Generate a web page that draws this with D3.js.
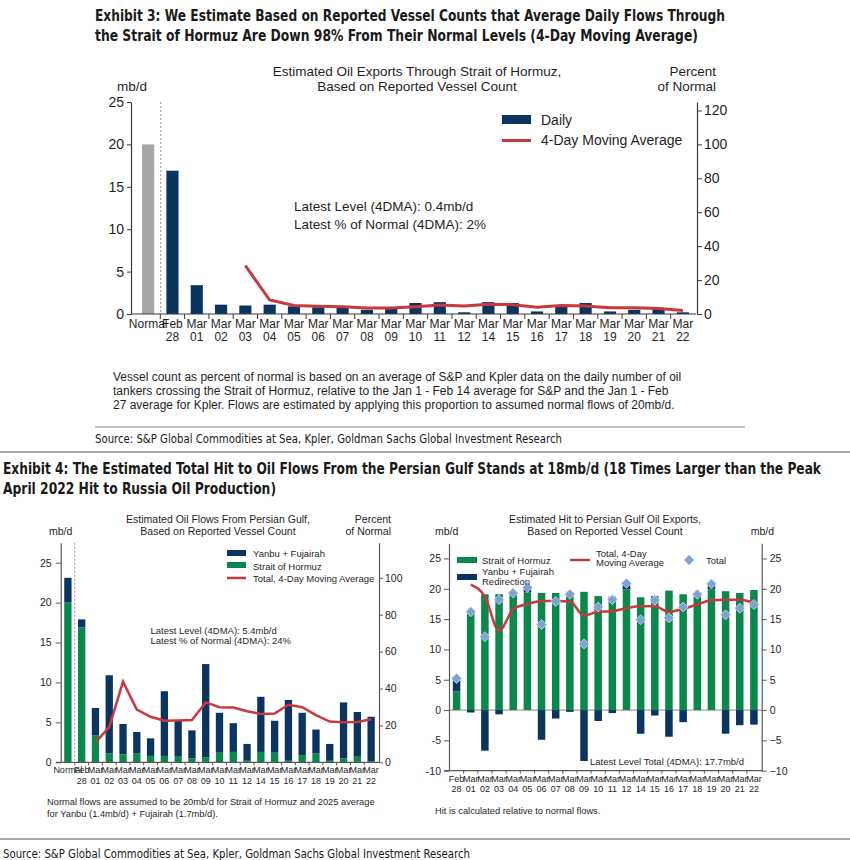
<!DOCTYPE html>
<html>
<head>
<meta charset="utf-8">
<script src="https://cdn.jsdelivr.net/npm/d3@7"></script>
<style>
body { margin: 0; background: #fff; }
svg text { font-family: "Liberation Sans", Arial, sans-serif; fill: #1f1f1f; }
svg text.head { font-family: "Liberation Sans Narrow", "DejaVu Sans Condensed", "Liberation Sans", sans-serif; fill: #1a1a1a; }
</style>
</head>
<body>
<div id="container"></div>
<script>
// categories (Mar 13 is missing in the source)
const flowCats = ["Normal", "Feb 28", "Mar 01", "Mar 02", "Mar 03", "Mar 04", "Mar 05", "Mar 06", "Mar 07",
  "Mar 08", "Mar 09", "Mar 10", "Mar 11", "Mar 12", "Mar 14", "Mar 15", "Mar 16", "Mar 17", "Mar 18",
  "Mar 19", "Mar 20", "Mar 21", "Mar 22"];
const hitCats = flowCats.slice(1);

// Exhibit 3: Strait of Hormuz daily flows, mb/d
const hormuzDaily = [20, 16.9, 3.4, 1.1, 1.0, 1.1, 0.9, 0.8, 0.8, 0.5, 0.6, 1.3, 1.4, 0.2, 1.4, 1.3, 0.3, 0.9, 1.3, 0.3, 0.5, 0.6, 0.2];
const hormuzMA = [null, null, null, null, 5.7, 1.65, 1.0, 0.9, 0.85, 0.7, 0.7, 0.85, 1.05, 0.95, 1.15, 1.1, 0.8, 1.0, 0.95, 0.75, 0.75, 0.65, 0.4];
const flowTicksLeft = [0, 5, 10, 15, 20, 25];
const flowTicksRight = [0, 20, 40, 60, 80, 100, 120];

// Exhibit 4 left: flows from the Persian Gulf, mb/d
const gulfHormuz = [20, 16.9, 3.4, 1.1, 1.0, 1.1, 0.8, 0.8, 0.7, 0.5, 0.6, 1.2, 1.3, 0.2, 1.3, 1.2, 0.2, 0.9, 1.1, 0.2, 0.5, 0.7, 0.1];
const gulfYanbu = [3.1, 1.0, 3.4, 9.8, 3.8, 2.7, 2.2, 8.1, 4.6, 3.5, 11.7, 5.0, 3.6, 2.1, 6.9, 4.0, 7.6, 5.3, 3.0, 2.1, 7.0, 5.6, 5.6];
const gulfMA = [null, null, 2.5, 4.4, 10.1, 6.6, 5.7, 5.2, 5.25, 5.3, 7.5, 6.9, 6.85, 6.4, 6.05, 6.1, 7.2, 6.9, 5.9, 5.1, 5.0, 5.05, 5.4];
const gulfTicksLeft = [0, 5, 10, 15, 20, 25];
const gulfTicksRight = [0, 20, 40, 60, 80, 100];

// Exhibit 4 right: hit to Persian Gulf exports, mb/d
const hitHormuz = [3.1, 16.3, 19.1, 19.1, 19.0, 19.4, 19.3, 19.3, 19.5, 19.5, 18.8, 18.7, 19.9, 18.6, 18.8, 19.7, 19.1, 18.9, 19.9, 19.6, 19.3, 19.8];
const hitYanbu = [2.1, -0.4, -6.7, -0.7, 0.3, 0.8, -4.9, -1.4, -0.3, -8.4, -1.8, -0.5, 0.9, -3.9, -0.9, -4.4, -2.0, 0.2, 0.9, -3.9, -2.5, -2.4];
const hitTotal = [5.2, 16.2, 12.1, 18.2, 19.3, 20.2, 14.1, 17.9, 19.1, 10.9, 17.0, 18.2, 20.9, 14.9, 18.1, 15.2, 17.0, 19.1, 20.8, 15.7, 16.8, 17.4];
const hitMA = [null, 20.7, 18.7, 13.1, 16.6, 17.5, 18.0, 18.0, 17.9, 15.6, 16.2, 16.3, 16.8, 17.1, 17.1, 16.2, 16.7, 17.4, 18.1, 18.2, 18.2, 17.7];
const hitTicks = [-10, -5, 0, 5, 10, 15, 20, 25];

const navy = "#0b3461", green = "#08884a", red = "#c9383c", grey = "#a6a6a6", diamondBlue = "#7fa2d3";

const svg = d3.select("#container").append("svg")
  .attr("width", 850)
  .attr("height", 860);

// ---- helpers
function text(x, y, str, size, opts = {}) {
  const t = svg.append("text")
    .attr("x", x).attr("y", y)
    .attr("font-size", size)
    .attr("text-anchor", opts.anchor || "start")
    .text(str);
  if (opts.cls) t.attr("class", opts.cls);
  if (opts.bold) t.attr("font-weight", "bold");
  if (opts.len) t.attr("textLength", opts.len).attr("lengthAdjust", "spacingAndGlyphs");
  return t;
}

function hline(x1, x2, y, color, w) {
  svg.append("line").attr("x1", x1).attr("x2", x2).attr("y1", y).attr("y2", y)
    .attr("stroke", color).attr("stroke-width", w);
}

function styleAxis(g, color, size) {
  g.attr("font-family", null);
  g.select(".domain").attr("stroke", color).attr("stroke-width", 1.2);
  g.selectAll(".tick line").attr("stroke", color);
  g.selectAll(".tick text").attr("font-size", size).attr("fill", "#1f1f1f");
}

function xAxis(x, y, color, size, gap, tickLen) {
  const g = svg.append("g");
  const r = x.range();
  g.append("line").attr("x1", r[0] - 5).attr("x2", r[1] + 1).attr("y1", y).attr("y2", y)
    .attr("stroke", color).attr("stroke-width", 1.2);
  const off = (x.step() - x.bandwidth()) / 2;
  x.domain().slice(1).forEach(c => {
    g.append("line").attr("x1", x(c) - off).attr("x2", x(c) - off)
      .attr("y1", y).attr("y2", y + tickLen).attr("stroke", color);
  });
  x.domain().forEach(c => {
    const cx = x(c) + x.bandwidth() / 2;
    const t = g.append("text").attr("font-size", size).attr("text-anchor", "middle")
      .attr("y", y + size + 2);
    c.split(" ").forEach((p, i) => {
      t.append("tspan").attr("x", cx).attr("dy", i ? gap : 0).text(p);
    });
  });
}

// ---- page texts
text(95, 21, "Exhibit 3: We Estimate Based on Reported Vessel Counts that Average Daily Flows Through", 15, { cls: "head", bold: true, len: 630 });
text(95, 41, "the Strait of Hormuz Are Down 98% From Their Normal Levels (4-Day Moving Average)", 15, { cls: "head", bold: true, len: 603 });

text(113, 381, "Vessel count as percent of normal is based on an average of S&P and Kpler data on the daily number of oil", 12);
text(113, 395, "tankers crossing the Strait of Hormuz, relative to the Jan 1 - Feb 14 average for S&P and the Jan 1 - Feb", 12);
text(113, 409, "27 average for Kpler. Flows are estimated by applying this proportion to assumed normal flows of 20mb/d.", 12);
hline(95, 745, 427, "#8c8c8c", 1);
text(95, 443, "Source: S&P Global Commodities at Sea, Kpler, Goldman Sachs Global Investment Research", 12.5, { cls: "head", len: 467 });
hline(0, 850, 452, "#8c8c8c", 1.5);

text(3, 474, "Exhibit 4: The Estimated Total Hit to Oil Flows From the Persian Gulf Stands at 18mb/d (18 Times Larger than the Peak", 15, { cls: "head", bold: true, len: 818 });
text(3, 494, "April 2022 Hit to Russia Oil Production)", 15, { cls: "head", bold: true, len: 273 });

text(47, 805, "Normal flows are assumed to be 20mb/d for Strait of Hormuz and 2025 average", 9.3);
text(47, 817, "for Yanbu (1.4mb/d) + Fujairah (1.7mb/d).", 9.3);
text(435, 814, "Hit is calculated relative to normal flows.", 9.3);
hline(0, 850, 839, "#8c8c8c", 1.5);
text(3, 858, "Source: S&P Global Commodities at Sea, Kpler, Goldman Sachs Global Investment Research", 12.5, { cls: "head", len: 467 });

// ---- Exhibit 3 chart
{
  const x = d3.scaleBand().domain(flowCats).range([136, 695]).paddingInner(0.5).paddingOuter(0.25);
  const y = d3.scaleLinear().domain([0, 25]).range([314, 102]);
  const yPct = d3.scaleLinear().domain([0, 125]).range([314, 102]);
  const axisColor = "#3a3a3a";

  text(417, 76, "Estimated Oil Exports Through Strait of Hormuz,", 13.5, { anchor: "middle" });
  text(417, 91, "Based on Reported Vessel Count", 13.5, { anchor: "middle" });
  text(117, 91, "mb/d", 13.5);
  text(716, 76, "Percent", 13.5, { anchor: "end" });
  text(716, 91, "of Normal", 13.5, { anchor: "end" });

  svg.append("line").attr("x1", 160.7).attr("x2", 160.7).attr("y1", 102).attr("y2", 314)
    .attr("stroke", "#9a9a9a").attr("stroke-dasharray", "2,2");

  svg.append("g").selectAll("rect").data(hormuzDaily).join("rect")
    .attr("x", (d, i) => x(flowCats[i]))
    .attr("width", x.bandwidth())
    .attr("y", d => y(d))
    .attr("height", d => y(0) - y(d))
    .attr("fill", (d, i) => i === 0 ? grey : navy);

  const line = d3.line()
    .defined(d => d != null)
    .x((d, i) => x(flowCats[i]) + x.bandwidth() / 2)
    .y(d => y(d));
  svg.append("path").datum(hormuzMA).attr("d", line)
    .attr("fill", "none").attr("stroke", red).attr("stroke-width", 3);

  const gl = svg.append("g").attr("transform", "translate(131,0)")
    .call(d3.axisLeft(y).tickValues(flowTicksLeft).tickSize(4).tickPadding(3).tickSizeOuter(0));
  styleAxis(gl, axisColor, 14);
  const gr = svg.append("g").attr("transform", "translate(697,0)")
    .call(d3.axisRight(yPct).tickValues(flowTicksRight).tickSize(5).tickPadding(2).tickSizeOuter(0));
  styleAxis(gr, axisColor, 14);
  xAxis(x, 314, axisColor, 12, 13, 5);

  svg.append("rect").attr("x", 502).attr("y", 115).attr("width", 29).attr("height", 9).attr("fill", navy);
  text(541, 125, "Daily", 14);
  svg.append("line").attr("x1", 502).attr("x2", 531).attr("y1", 140.5).attr("y2", 140.5)
    .attr("stroke", red).attr("stroke-width", 3);
  text(541, 145, "4-Day Moving Average", 14);

  text(294, 211, "Latest Level (4DMA): 0.4mb/d", 13.5);
  text(294, 229, "Latest % of Normal (4DMA): 2%", 13.5);
}

// ---- Exhibit 4 left chart
{
  const x = d3.scaleBand().domain(flowCats).range([61, 378]).paddingInner(0.47).paddingOuter(0.235);
  const y = d3.scaleLinear().domain([0, 27.5]).range([762.3, 542.7]);
  const yPct = d3.scaleLinear().domain([0, 27.5 / 23.1 * 100]).range([762.3, 542.7]);
  const axisColor = "#5a5a5a";

  text(218, 523, "Estimated Oil Flows From Persian Gulf,", 10.5, { anchor: "middle" });
  text(218, 535, "Based on Reported Vessel Count", 10.5, { anchor: "middle" });
  text(49, 535, "mb/d", 10.5);
  text(391, 523, "Percent", 10.5, { anchor: "end" });
  text(391, 535, "of Normal", 10.5, { anchor: "end" });

  svg.append("line").attr("x1", 74.7).attr("x2", 74.7).attr("y1", 542.7).attr("y2", 762.3)
    .attr("stroke", "#9a9a9a").attr("stroke-dasharray", "2,2");

  const g = svg.append("g");
  g.selectAll("rect.h").data(gulfHormuz).join("rect")
    .attr("x", (d, i) => x(flowCats[i]))
    .attr("width", x.bandwidth())
    .attr("y", d => y(d))
    .attr("height", d => y(0) - y(d))
    .attr("fill", green);
  g.selectAll("rect.yf").data(gulfYanbu).join("rect")
    .attr("x", (d, i) => x(flowCats[i]))
    .attr("width", x.bandwidth())
    .attr("y", (d, i) => y(d + gulfHormuz[i]))
    .attr("height", (d, i) => y(gulfHormuz[i]) - y(d + gulfHormuz[i]))
    .attr("fill", navy);

  const line = d3.line()
    .defined(d => d != null)
    .x((d, i) => x(flowCats[i]) + x.bandwidth() / 2)
    .y(d => y(d));
  svg.append("path").datum(gulfMA).attr("d", line)
    .attr("fill", "none").attr("stroke", red).attr("stroke-width", 2.5);

  const gl = svg.append("g").attr("transform", "translate(60.7,0)")
    .call(d3.axisLeft(y).tickValues(gulfTicksLeft).tickSize(5).tickPadding(4).tickSizeOuter(0));
  styleAxis(gl, axisColor, 10.5);
  const gr = svg.append("g").attr("transform", "translate(379,0)")
    .call(d3.axisRight(yPct).tickValues(gulfTicksRight).tickSize(4).tickPadding(2).tickSizeOuter(0));
  styleAxis(gr, axisColor, 10.5);
  xAxis(x, 762.3, axisColor, 9, 10.5, 3);

  svg.append("rect").attr("x", 227).attr("y", 550).attr("width", 19).attr("height", 6).attr("fill", navy);
  text(253, 557, "Yanbu + Fujairah", 9.5);
  svg.append("rect").attr("x", 227).attr("y", 562).attr("width", 19).attr("height", 6).attr("fill", green);
  text(253, 569.5, "Strait of Hormuz", 9.5);
  svg.append("line").attr("x1", 227).attr("x2", 246).attr("y1", 578).attr("y2", 578)
    .attr("stroke", red).attr("stroke-width", 2.5);
  text(253, 581.5, "Total, 4-Day Moving Average", 9.5);

  text(150.5, 633.5, "Latest Level (4DMA): 5.4mb/d", 9.5);
  text(150.5, 643.5, "Latest % of Normal (4DMA): 24%", 9.5);
}

// ---- Exhibit 4 right chart
{
  const x = d3.scaleBand().domain(hitCats).range([449.5, 761]).paddingInner(0.47).paddingOuter(0.235);
  const y = d3.scaleLinear().domain([-10, 27.5]).range([770.7, 543.3]);
  const axisColor = "#5a5a5a";

  text(605, 523, "Estimated Hit to Persian Gulf Oil Exports,", 10.5, { anchor: "middle" });
  text(605, 535, "Based on Reported Vessel Count", 10.5, { anchor: "middle" });
  text(435, 535, "mb/d", 10.5);
  text(774, 535, "mb/d", 10.5, { anchor: "end" });

  svg.append("line").attr("x1", 449).attr("x2", 761.7).attr("y1", y(0)).attr("y2", y(0))
    .attr("stroke", "#8a8a8a").attr("stroke-width", 1);

  const g = svg.append("g");
  g.selectAll("rect.h").data(hitHormuz).join("rect")
    .attr("x", (d, i) => x(hitCats[i]))
    .attr("width", x.bandwidth())
    .attr("y", d => y(d))
    .attr("height", d => y(0) - y(d))
    .attr("fill", green);
  g.selectAll("rect.yf").data(hitYanbu).join("rect")
    .attr("x", (d, i) => x(hitCats[i]))
    .attr("width", x.bandwidth())
    .attr("y", (d, i) => d >= 0 ? y(hitHormuz[i] + d) : y(0))
    .attr("height", d => Math.abs(y(0) - y(d)) )
    .attr("fill", navy);

  const line = d3.line()
    .defined(d => d != null)
    .curve(d3.curveMonotoneX)
    .x((d, i) => x(hitCats[i]) + x.bandwidth() / 2)
    .y(d => y(d));
  svg.append("path").datum(hitMA).attr("d", line)
    .attr("fill", "none").attr("stroke", red).attr("stroke-width", 2.5);

  const diamond = d3.symbol().type(d3.symbolSquare).size(50);
  svg.append("g").selectAll("path").data(hitTotal).join("path")
    .attr("d", diamond)
    .attr("transform", (d, i) => `translate(${x(hitCats[i]) + x.bandwidth() / 2},${y(d)}) rotate(45)`)
    .attr("fill", diamondBlue)
    .attr("stroke", "#c9d8ee").attr("stroke-width", 0.8);

  const fmt = d => d < 0 ? "\u2212" + Math.abs(d) : d;
  const gl = svg.append("g").attr("transform", "translate(449,0)")
    .call(d3.axisLeft(y).tickValues(hitTicks).tickFormat(d => d).tickSize(5).tickPadding(3).tickSizeOuter(0));
  styleAxis(gl, axisColor, 10.5);
  const gr = svg.append("g").attr("transform", "translate(761.7,0)")
    .call(d3.axisRight(y).tickValues(hitTicks).tickFormat(fmt).tickSize(5).tickPadding(3).tickSizeOuter(0));
  styleAxis(gr, axisColor, 10.5);
  xAxis(x, 770.7, axisColor, 9, 10.5, 3);

  svg.append("rect").attr("x", 457).attr("y", 557).attr("width", 20).attr("height", 6).attr("fill", green);
  text(482, 564, "Strait of Hormuz", 9.5);
  svg.append("rect").attr("x", 457).attr("y", 574).attr("width", 20).attr("height", 6).attr("fill", navy);
  text(482, 575, "Yanbu + Fujairah", 9.5);
  text(482, 584.5, "Redirection", 9.5);
  svg.append("line").attr("x1", 570).attr("x2", 590).attr("y1", 560).attr("y2", 560)
    .attr("stroke", red).attr("stroke-width", 2.5);
  text(596, 557, "Total, 4-Day", 9.5);
  text(596, 566, "Moving Average", 9.5);
  svg.append("path").attr("d", diamond)
    .attr("transform", "translate(689,560) rotate(45)")
    .attr("fill", diamondBlue);
  text(706, 564, "Total", 9.5);

  text(590, 765, "Latest Level Total (4DMA): 17.7mb/d", 9.5);
}
</script>
</body>
</html>
